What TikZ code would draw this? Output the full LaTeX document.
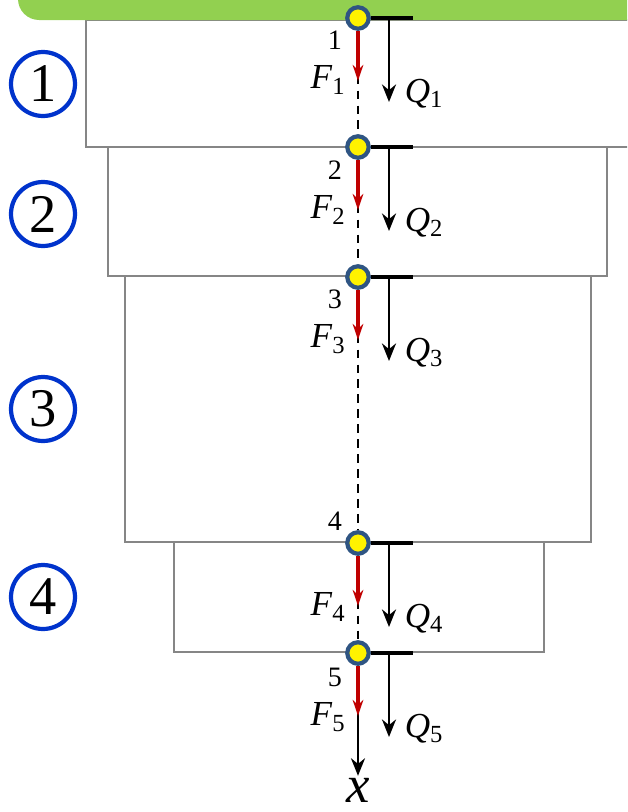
\documentclass[tikz,border=0pt]{standalone}
\usepackage{fontspec}
\setmainfont{Liberation Serif}
\usepackage{tikz}
\usetikzlibrary{arrows,arrows.meta,shapes,positioning,calc}
\definecolor{barGreen}{HTML}{92D050}
\definecolor{numBlue}{HTML}{0033CC}
\definecolor{ptBlue}{HTML}{2F5583}
\definecolor{fRed}{HTML}{C00000}
\newcommand{\fq}[2]{\textit{#1}\textsubscript{#2}}

\begin{document}
\begin{tikzpicture}[x=0.02cm,y=-0.02cm,->,>={Stealth[length=10pt,width=8pt]},
  seg/.style={-,draw=gray!95,line width=1.4pt},
  pt/.style={circle,fill=yellow,draw=ptBlue,line width=2.4pt,inner sep=0pt,minimum size=0.43cm},
  num/.style={circle,draw=numBlue,line width=2.4pt,inner sep=0pt,minimum size=1.28cm,font=\fontsize{31}{31}\selectfont},
  bar/.style={-,line width=2.2pt},
  qarr/.style={line width=1.3pt},
  farr/.style={draw=fRed,line width=1.8pt,-{Stealth[length=9pt,width=6pt]},fRed},
  lab/.style={font=\fontsize{20}{20}\selectfont},
  qlab/.style={lab,right=5pt,yshift=5pt},
  idx/.style={font=\fontsize{16}{16}\selectfont}]
\useasboundingbox (0,0) rectangle (627,812);
\clip (0,0) rectangle (627,812);
% segments
\draw[seg] (86,20) rectangle (640,147);
\draw[seg] (108,147) rectangle (607,276);
\draw[seg] (125,276) rectangle (591,542);
\draw[seg] (174,542) rectangle (544,652);
\fill[barGreen,rounded corners=12] (18,-20) -- (18,20) -- (650,20) -- (650,-20) -- cycle;
% circled numbers
\node[num] (c1) at (43,84) {1};
\node[num] (c2) at (43,214) {2};
\node[num] (c3) at (43,409) {3};
\node[num] (c4) at (43,597) {4};
% points on the axis
\node[pt] (p1) at (358,18) {};
\node[pt] (p2) at (358,147) {};
\node[pt] (p3) at (358,277) {};
\node[pt] (p4) at (358,543) {};
\node[pt] (p5) at (358,653) {};
\node[font=\fontsize{30}{30}\selectfont,inner sep=1pt] (xl) at (358,790) {\textit{x}};
\draw[-,dashed,line width=1.1pt,dash pattern=on 5pt off 3.5pt] (p1) -- (p2);
\draw[-,dashed,line width=1.1pt,dash pattern=on 5pt off 3.5pt] (p2) -- (p3);
\draw[-,dashed,line width=1.1pt,dash pattern=on 5pt off 3.5pt] (p3) -- (p4);
\draw[-,dashed,line width=1.1pt,dash pattern=on 5pt off 3.5pt] (p4) -- (p5);
\draw[line width=1.3pt] (p5) -- (xl.north);
% bars and Q
\draw[bar] (p1.east) -- ++(42,0);
\draw[bar] (p2.east) -- ++(42,0);
\draw[bar] (p3.east) -- ++(42,0);
\draw[bar] (p4.east) -- ++(42,0);
\draw[bar] (p5.east) -- ++(42,0);
\draw[qarr] ($(p1)+(31,0)$) -- ++(0,84) node[qlab] (q1) {\fq{Q}{1}};
\draw[qarr] ($(p2)+(31,0)$) -- ++(0,84) node[qlab] (q2) {\fq{Q}{2}};
\draw[qarr] ($(p3)+(31,0)$) -- ++(0,84) node[qlab] (q3) {\fq{Q}{3}};
\draw[qarr] ($(p4)+(31,0)$) -- ++(0,84) node[qlab] (q4) {\fq{Q}{4}};
\draw[qarr] ($(p5)+(31,0)$) -- ++(0,84) node[qlab] (q5) {\fq{Q}{5}};
% F
\draw[farr] (p1.south) -- ++(0,50);
\draw[farr] (p2.south) -- ++(0,50);
\draw[farr] (p3.south) -- ++(0,50);
\draw[farr] (p4.south) -- ++(0,50);
\draw[farr] (p5.south) -- ++(0,50);
\node[lab] (f1) at (328,80) {\fq{F}{1}};
\node[lab] (f2) at (328,210) {\fq{F}{2}};
\node[lab] (f3) at (328,339) {\fq{F}{3}};
\node[lab] (f4) at (328,607) {\fq{F}{4}};
\node[lab] (f5) at (328,717) {\fq{F}{5}};
\node[idx] (n1) at (335,40) {1};
\node[idx] (n2) at (335,170) {2};
\node[idx] (n3) at (335,299) {3};
\node[idx] (n4) at (335,521) {4};
\node[idx] (n5) at (335,677) {5};
\end{tikzpicture}
\end{document}
